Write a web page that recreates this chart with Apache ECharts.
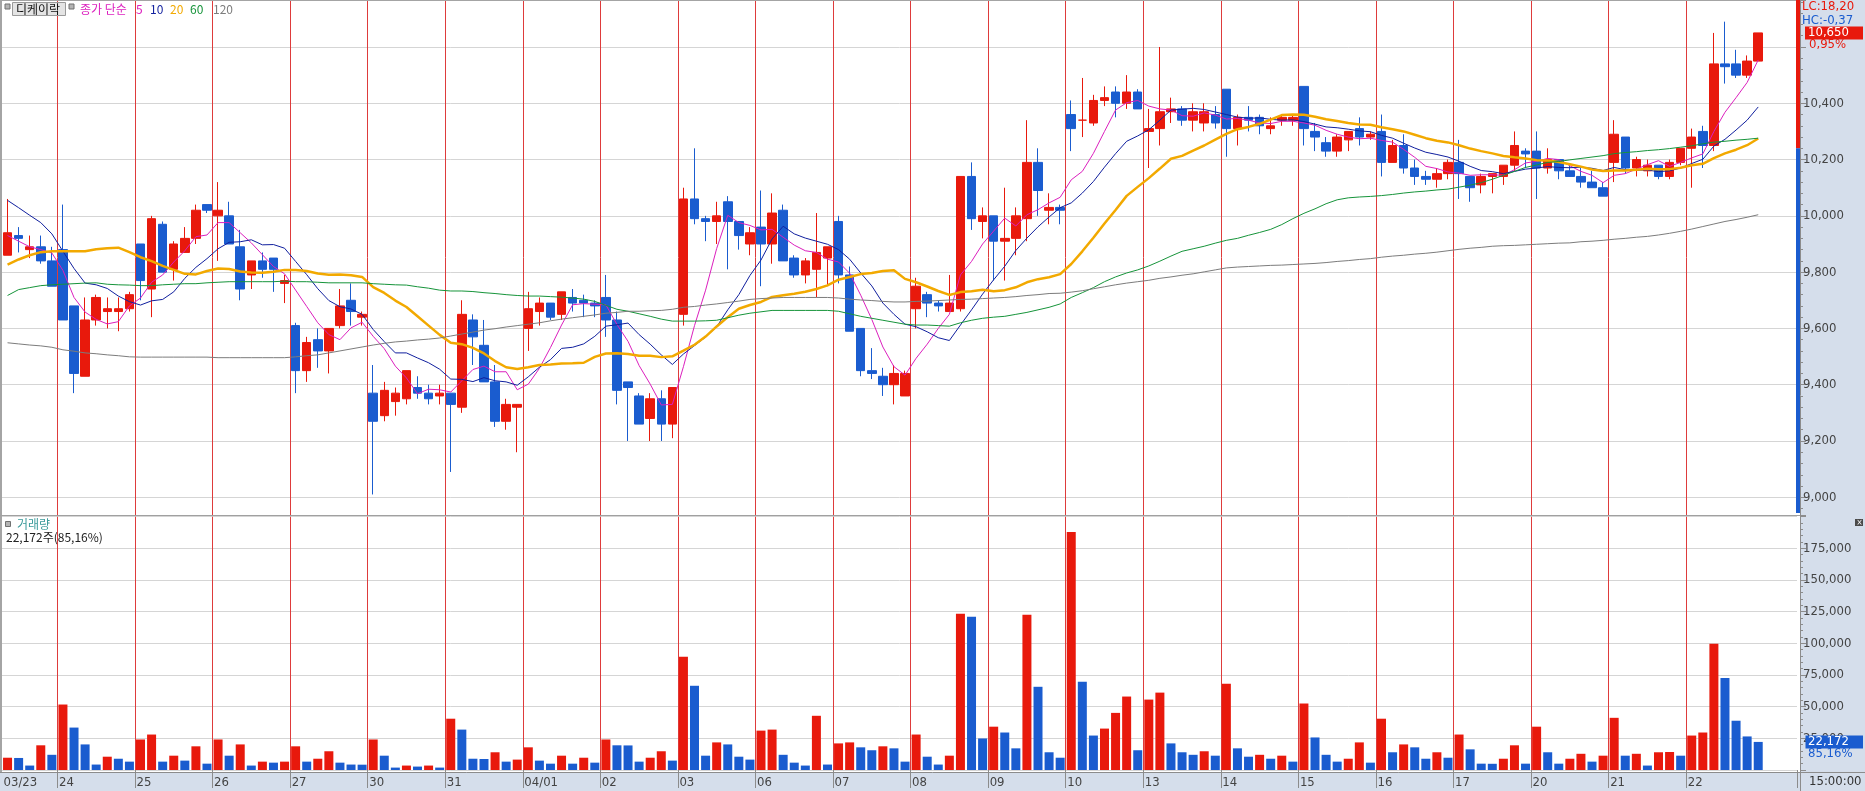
<!DOCTYPE html>
<html><head><meta charset="utf-8">
<script src="https://cdn.jsdelivr.net/npm/echarts@6/dist/echarts.min.js"></script>
<style>html,body{margin:0;padding:0;background:#fff;}#c{width:1865px;height:791px;}</style>
</head><body><div id="c"></div>
<script>
// ---------------- DATA ----------------
const dayLabels = ['03/23','24','25','26','27','30','31','04/01','02','03','06','07','08','09','10','13','14','15','16','17','20','21','22'];
const firstDayHours = ['11:00','12:00','13:00','14:00','15:00'];
const dayHours = ['09:00','10:00','11:00','12:00','13:00','14:00','15:00'];

const open = [
 9860,9930,9880,9890,9840,
 9880,9680,9430,9630,9660,9660,9670,
 9900,9740,9970,9810,9870,9920,10040,
 10000,10000,9890,9790,9840,9850,9760,
 9610,9450,9560,9520,9610,9700,9640,
 9370,9290,9340,9350,9390,9370,9360,
 9370,9320,9630,9540,9410,9270,9320,
 9600,9660,9690,9650,9710,9700,9690,
 9710,9630,9410,9360,9280,9350,9260,
 9650,10060,9990,9980,10050,9980,9900,
 9960,9900,10020,9850,9790,9810,9850,
 9980,9790,9600,9450,9430,9400,9360,
 9670,9720,9690,9660,9670,10140,9980,
 10000,9910,9920,9990,10190,10020,10030,
 10360,10340,10330,10410,10440,10400,10440,
 10300,10310,10370,10380,10340,10330,10360,
 10450,10310,10350,10350,10310,10340,10340,
 10460,10300,10260,10230,10270,10310,10280,
 10300,10190,10250,10170,10140,10130,10150,
 10190,10140,10110,10140,10140,10180,10230,
 10230,10170,10200,10160,10140,10120,10100,
 10190,10280,10170,10160,10180,10140,10190,
 10240,10300,10250,10540,10540,10500,10550];
const close = [
 9940,9920,9890,9840,9750,
 9630,9440,9630,9710,9670,9670,9720,
 9770,9990,9800,9900,9920,10020,10020,
 10020,9900,9740,9840,9810,9810,9770,
 9450,9550,9520,9600,9680,9660,9650,
 9270,9380,9370,9450,9370,9350,9370,
 9330,9650,9570,9410,9270,9330,9330,
 9670,9690,9640,9730,9690,9690,9680,
 9630,9380,9390,9260,9350,9260,9390,
 10060,9990,9980,10000,9980,9930,9940,
 9900,10010,9840,9790,9840,9870,9890,
 9790,9590,9450,9440,9400,9440,9440,
 9750,9690,9680,9690,10140,9990,10000,
 9910,9920,10000,10190,10090,10030,10020,
 10310,10340,10410,10420,10400,10440,10380,
 10310,10370,10380,10340,10370,10370,10330,
 10310,10350,10340,10320,10320,10350,10350,
 10310,10280,10230,10280,10300,10280,10290,
 10190,10250,10170,10140,10130,10150,10190,
 10150,10100,10140,10150,10180,10250,10220,
 10170,10200,10160,10140,10120,10100,10070,
 10290,10170,10200,10180,10140,10190,10240,
 10280,10250,10540,10530,10500,10550,10650];
const low = [
 9860,9870,9850,9830,9750,
 9630,9370,9430,9610,9600,9590,9660,
 9700,9640,9800,9770,9870,9900,10010,
 9840,9900,9700,9740,9780,9730,9690,
 9370,9410,9460,9440,9600,9610,9610,
 9010,9270,9290,9330,9350,9330,9330,
 9090,9300,9470,9410,9250,9240,9160,
 9520,9610,9630,9630,9660,9640,9640,
 9570,9330,9200,9260,9200,9200,9210,
 9610,9970,9910,9900,9810,9880,9860,
 9750,9830,9840,9780,9760,9710,9750,
 9760,9590,9430,9420,9360,9330,9360,
 9600,9640,9660,9660,9660,9950,9920,
 9770,9770,9860,9910,10000,9970,9970,
 10230,10280,10320,10390,10350,10380,10380,
 10170,10250,10330,10320,10300,10300,10310,
 10210,10250,10300,10290,10290,10320,10320,
 10250,10230,10210,10210,10230,10250,10270,
 10140,10190,10150,10110,10110,10100,10130,
 10060,10050,10080,10080,10110,10160,10170,
 10060,10150,10130,10140,10100,10100,10070,
 10120,10150,10140,10140,10130,10130,10180,
 10100,10170,10230,10470,10490,10490,10550];
const high = [
 10060,9960,9930,9930,9890,
 10040,9680,9710,9720,9710,9710,9730,
 9900,10000,9980,9910,9960,10040,10040,
 10120,10050,9950,9840,9870,9850,9790,
 9620,9570,9600,9600,9740,9760,9660,
 9470,9410,9390,9450,9430,9400,9400,
 9370,9700,9650,9630,9470,9350,9330,
 9730,9710,9690,9730,9740,9720,9700,
 9790,9660,9410,9370,9370,9380,9390,
 10100,10240,10000,10050,10070,9980,9960,
 10090,10080,10040,9860,9850,10010,9890,
 10000,9820,9600,9530,9460,9470,9450,
 9780,9730,9700,9790,10140,10190,10030,
 10000,10100,10030,10340,10240,10080,10040,
 10410,10490,10430,10460,10460,10500,10450,
 10380,10600,10420,10390,10400,10400,10390,
 10450,10360,10390,10360,10350,10360,10360,
 10460,10330,10280,10290,10300,10350,10300,
 10360,10270,10290,10200,10160,10170,10200,
 10270,10140,10150,10150,10180,10300,10240,
 10300,10240,10200,10180,10170,10160,10120,
 10340,10280,10210,10200,10180,10200,10240,
 10310,10320,10650,10690,10590,10570,10650];
const volume = [
 9700,9500,3500,19500,12000,
 51700,33500,20200,4300,10500,8900,6600,
 24100,28000,6600,11300,7400,18700,5000,
 24100,11300,20200,3500,6600,5800,6600,
 18700,6600,8900,14800,5800,4300,4200,
 24100,11300,1900,3500,2700,3500,1900,
 40500,31900,8900,8700,14000,6600,8200,
 17900,7400,5000,11300,5000,9700,5800,
 24100,19500,19400,6600,9700,14800,7400,
 89500,66500,11300,21800,20200,10500,8200,
 31100,31900,12000,5800,3500,42800,4300,
 21000,21800,17900,15600,18700,17100,6600,
 28000,10500,4300,11300,123300,121000,24900,
 34200,29600,17100,122500,65700,14000,9700,
 187900,69600,27200,32700,45100,58000,15600,
 55600,61100,21000,14000,12000,14800,11300,
 68100,17100,10500,12000,8900,11300,6600,
 52500,25700,12000,6600,8900,21800,5800,
 40500,14000,20200,17900,8900,14000,9700,
 28000,16300,5000,4900,8900,19500,5000,
 34200,14000,5000,8900,12800,6600,11300,
 41200,11300,12800,3500,14000,14200,11300,
 27200,29600,99600,72700,38900,26500,22172];
const ma5 = [
 9930,9910,9890,9880,9868,
 9806,9710,9658,9632,9616,9624,9680,
 9708,9764,9790,9836,9876,9926,9932,
 9976,9976,9940,9904,9862,9820,9794,
 9736,9678,9620,9578,9560,9602,9622,
 9572,9528,9466,9424,9368,9384,9382,
 9374,9414,9454,9466,9446,9446,9382,
 9402,9458,9532,9612,9684,9688,9686,
 9684,9614,9554,9468,9402,9328,9330,
 9464,9610,9736,9884,10002,9976,9966,
 9950,9952,9924,9896,9876,9870,9846,
 9836,9796,9718,9632,9534,9464,9434,
 9494,9544,9600,9650,9790,9838,9900,
 9946,9992,9964,10004,10022,10046,10066,
 10128,10158,10222,10300,10376,10402,10410,
 10390,10380,10376,10356,10354,10366,10358,
 10344,10346,10340,10330,10328,10336,10336,
 10330,10322,10304,10290,10280,10274,10276,
 10268,10262,10236,10208,10176,10168,10156,
 10152,10144,10146,10146,10144,10164,10188,
 10194,10204,10200,10178,10158,10144,10118,
 10144,10150,10166,10182,10196,10176,10190,
 10206,10220,10300,10368,10420,10474,10554];
const ma10 = [
 10055,10029,10002,9976,9936,
 9874,9813,9761,9755,9742,9715,9695,
 9683,9698,9703,9730,9778,9817,9848,
 9883,9906,9908,9915,9897,9898,9885,
 9838,9791,9741,9699,9677,9669,9650,
 9596,9553,9513,9513,9495,9478,9455,
 9420,9419,9411,9425,9414,9410,9398,
 9428,9462,9489,9529,9533,9545,9572,
 9608,9613,9619,9578,9544,9506,9472,
 9509,9539,9569,9606,9666,9720,9788,
 9843,9918,9963,9936,9921,9910,9899,
 9880,9846,9797,9751,9690,9650,9615,
 9606,9588,9567,9557,9612,9666,9722,
 9773,9821,9877,9921,9961,9996,10029,
 10046,10081,10122,10173,10221,10265,10284,
 10306,10340,10376,10379,10382,10378,10369,
 10360,10351,10347,10348,10343,10340,10341,
 10335,10326,10316,10313,10308,10302,10299,
 10286,10276,10258,10241,10226,10218,10209,
 10194,10176,10161,10157,10150,10158,10166,
 10170,10175,10172,10171,10173,10169,10161,
 10172,10164,10162,10163,10157,10160,10170,
 10186,10201,10248,10272,10305,10340,10387];
const ma20 = [
 9827,9845,9860,9871,9874,
 9874,9874,9874,9881,9885,9887,9871,
 9853,9839,9822,9808,9794,9792,9804,
 9813,9811,9802,9799,9798,9801,9808,
 9808,9804,9795,9791,9792,9789,9783,
 9747,9726,9699,9676,9643,9610,9577,
 9549,9544,9531,9511,9484,9462,9456,
 9462,9470,9472,9475,9476,9478,9499,
 9511,9512,9509,9503,9503,9498,9501,
 9521,9542,9571,9607,9640,9670,9683,
 9694,9712,9718,9723,9730,9740,9753,
 9773,9783,9793,9797,9804,9807,9776,
 9764,9749,9733,9719,9729,9732,9737,
 9732,9736,9746,9764,9775,9782,9793,
 9829,9874,9922,9973,10021,10071,10103,
 10134,10168,10203,10213,10232,10250,10271,
 10291,10308,10316,10327,10342,10358,10360,
 10359,10352,10343,10337,10330,10325,10324,
 10315,10308,10300,10288,10276,10267,10261,
 10251,10239,10230,10222,10213,10208,10204,
 10198,10197,10191,10183,10175,10165,10159,
 10161,10161,10164,10167,10166,10166,10171,
 10180,10185,10205,10222,10235,10251,10275];
const ma60 = [
 9717,9738,9745,9752,9755,
 9757,9759,9761,9762,9757,9755,9754,
 9752,9752,9755,9757,9759,9759,9762,
 9764,9766,9766,9766,9766,9766,9768,
 9766,9766,9764,9762,9762,9762,9762,
 9759,9757,9755,9754,9748,9743,9736,
 9733,9733,9731,9727,9724,9720,9717,
 9715,9715,9713,9711,9708,9704,9696,
 9682,9668,9661,9652,9643,9633,9626,
 9626,9626,9627,9629,9638,9647,9654,
 9659,9664,9664,9664,9664,9664,9664,
 9661,9652,9643,9636,9629,9622,9615,
 9612,9612,9610,9608,9620,9629,9636,
 9640,9643,9650,9657,9666,9675,9687,
 9710,9727,9745,9766,9783,9797,9808,
 9822,9839,9857,9874,9883,9892,9903,
 9913,9920,9931,9941,9952,9969,9990,
 10009,10025,10043,10057,10064,10067,10069,
 10072,10076,10081,10085,10088,10092,10095,
 10102,10109,10118,10130,10144,10158,10172,
 10181,10190,10193,10199,10204,10209,10214,
 10221,10225,10228,10232,10235,10239,10244,
 10249,10256,10262,10265,10269,10272,10276];
const ma120 = [
 9549,9545,9541,9538,9533,
 9524,9519,9513,9510,9506,9503,9499,
 9498,9498,9498,9498,9498,9498,9498,
 9496,9496,9496,9496,9496,9496,9496,
 9499,9503,9506,9513,9520,9527,9534,
 9541,9547,9552,9555,9559,9562,9566,
 9573,9580,9587,9594,9599,9605,9610,
 9615,9620,9627,9633,9638,9643,9648,
 9654,9657,9661,9661,9663,9664,9668,
 9675,9678,9683,9687,9692,9697,9703,
 9706,9708,9710,9710,9710,9710,9710,
 9708,9704,9701,9699,9696,9694,9694,
 9696,9697,9699,9701,9703,9704,9706,
 9708,9710,9713,9717,9720,9724,9725,
 9729,9734,9741,9748,9755,9761,9766,
 9771,9778,9783,9789,9794,9801,9808,
 9815,9818,9820,9822,9824,9825,9827,
 9829,9831,9834,9838,9841,9845,9848,
 9853,9857,9860,9864,9867,9871,9876,
 9881,9885,9888,9892,9894,9895,9897,
 9899,9901,9903,9904,9908,9910,9913,
 9917,9920,9924,9927,9932,9938,9945,
 9953,9962,9971,9980,9987,9995,10004];
const priceTicks = [9000,9200,9400,9600,9800,10000,10200,10400];
const volumeTicks = [25000,50000,75000,100000,125000,150000,175000];
const priceAxisMin = 8937, priceAxisMax = 10767;
const volumeAxisMax = 200000;
const infoTexts = {name:'디케이락', maTitle:'종가 단순', maPeriods:['5','10','20','60','120'],
  lc:'LC:18,20', hc:'HC:-0,37', pct:'0,95%', volTitle:'거래량', volInfo:'22,172주(85,16%)', volPct:'85,16%', lastTime:'15:00:00'};

// ---------------- BUILD ----------------
const nPad = 3;
const categories = [];
const dayStartLabel = {};
dayLabels.forEach((d, k) => {
  dayStartLabel[categories.length] = d;
  (k === 0 ? firstDayHours : dayHours).forEach(h => categories.push(d + ' ' + h));
});
for (let p = 0; p < nPad; p++) categories.push('pad' + p);
const isDayStart = idx => dayStartLabel[idx] !== undefined;
const isBoundary = idx => idx > 0 && isDayStart(idx);

const UP = '#e8190c', DOWN = '#1a5ccf';
const MA_COLORS = ['#dc1fbe', '#101f9e', '#f2a900', '#16943a', '#7c7c7c'];
const BAND = '#d5deeb';
const FN = '"Liberation Sans Narrow","DejaVu Sans Condensed","Liberation Sans","DejaVu Sans",sans-serif';
const FK = '"Noto Sans CJK KR","Noto Sans",sans-serif';
const fmt = v => String(v).replace(/\B(?=(\d{3})+(?!\d))/g, ',');

const candleData = open.map((o, i) => [o, close[i], low[i], high[i]]);
const volData = volume.map((v, i) => ({value: v, itemStyle: {color: (i === 0 || v > volume[i - 1]) ? UP : DOWN}}));
const maList = [ma5, ma10, ma20, ma60, ma120];

const chart = echarts.init(document.getElementById('c'), null, {renderer: 'canvas', width: 1865, height: 791});
const option = {
  animation: false,
  backgroundColor: '#ffffff',
  grid: [
    {left: 2, top: 0, width: 1795, height: 515, containLabel: false, outerBoundsMode: 'none'},
    {left: 2, top: 516.7, width: 1795, height: 253.3, containLabel: false, outerBoundsMode: 'none'}
  ],
  xAxis: [
    {type: 'category', gridIndex: 0, data: categories, boundaryGap: true,
     axisLine: {show: false}, axisTick: {show: false}, axisLabel: {show: false},
     splitLine: {show: true, interval: isBoundary, showMaxLine: false, lineStyle: {color: '#de3b3b', width: 1}}},
    {type: 'category', gridIndex: 1, data: categories, boundaryGap: true, offset: 3,
     axisLine: {show: false},
     axisTick: {show: true, interval: isBoundary, length: 18, lineStyle: {color: '#8c8c8c'}},
     axisLabel: {show: true, interval: isDayStart, formatter: (v, i) => dayStartLabel[i] || '',
       align: 'left', padding: [0, 0, 0, -4], margin: 3, color: '#444', fontSize: 13, fontFamily: FN},
     splitLine: {show: true, interval: isBoundary, showMaxLine: false, lineStyle: {color: '#de3b3b', width: 1}}}
  ],
  yAxis: [
    {type: 'value', gridIndex: 0, position: 'right', offset: 3, min: priceAxisMin, max: priceAxisMax,
     splitNumber: 9, minInterval: 200, maxInterval: 200,
     axisLine: {show: false},
     axisTick: {show: true, length: 6, lineStyle: {color: '#8c8c8c'}},
     minorTick: {show: true, splitNumber: 5, length: 3, lineStyle: {color: '#8c8c8c'}},
     axisLabel: {color: '#444', fontSize: 13, fontFamily: FN, margin: 3, showMinLabel: false, showMaxLabel: false,
       formatter: v => priceTicks.indexOf(v) >= 0 ? fmt(v) : ''},
     splitLine: {show: true, lineStyle: {color: '#d5d5d5', width: 1}}},
    {type: 'value', gridIndex: 1, position: 'right', offset: 3, min: 0, max: volumeAxisMax, interval: 25000,
     axisLine: {show: false},
     axisTick: {show: true, length: 6, lineStyle: {color: '#8c8c8c'}},
     minorTick: {show: true, splitNumber: 5, length: 3, lineStyle: {color: '#8c8c8c'}},
     axisLabel: {color: '#444', fontSize: 13, fontFamily: FN, margin: 3, showMinLabel: false, showMaxLabel: false,
       formatter: v => volumeTicks.indexOf(v) >= 0 ? fmt(v) : ''},
     splitLine: {show: true, lineStyle: {color: '#d5d5d5', width: 1}}}
  ],
  series: [
    {type: 'candlestick', xAxisIndex: 0, yAxisIndex: 0, data: candleData, barWidth: 9, z: 2,
     itemStyle: {color: UP, color0: DOWN, borderColor: UP, borderColor0: DOWN, borderWidth: 1}},
    ...maList.map((arr, k) => ({type: 'line', xAxisIndex: 0, yAxisIndex: 0, data: arr, symbol: 'none', showSymbol: false,
      z: 3, lineStyle: {color: MA_COLORS[k], width: k === 2 ? 2.5 : 1}})),
    {type: 'bar', xAxisIndex: 1, yAxisIndex: 1, data: volData, barWidth: 9, z: 2}
  ]
};
chart.setOption(option);

function buildGraphic() {
  const yP = v => chart.convertToPixel({yAxisIndex: 0}, v);
  const yV = v => chart.convertToPixel({yAxisIndex: 1}, v);
  const last = close.length - 1;
  const starts = Object.keys(dayStartLabel).map(Number);
  const prevDayClose = close[starts[starts.length - 1] - 1];
  const pY = yP(close[last]);
  const vY = yV(volume[last]);
  const sY = yP(prevDayClose);
  const topY = yP(priceAxisMax), botY = yP(priceAxisMin);
  const txt = (x, y, text, fill, size, fam, extra) => Object.assign({type: 'text', x, y, z: 100,
    style: {text, fill, fontSize: size, fontFamily: fam, verticalAlign: 'middle', align: 'left'}}, extra || {});
  const els = [
    {type: 'rect', shape: {x: 1800, y: 0, width: 65, height: 791}, style: {fill: BAND}, z: -1, silent: true},
    {type: 'rect', shape: {x: 0, y: 772, width: 1865, height: 19}, style: {fill: BAND}, z: -1, silent: true},
    {type: 'rect', shape: {x: 0, y: 0, width: 2, height: 772}, style: {fill: '#a4a4a4'}, z: 50},
    {type: 'line', shape: {x1: 0, y1: 0.5, x2: 1800, y2: 0.5}, style: {stroke: '#a4a4a4', lineWidth: 1}, z: 50},
    {type: 'line', shape: {x1: 1800.5, y1: 0, x2: 1800.5, y2: 791}, style: {stroke: '#8c8c8c', lineWidth: 1}, z: 50},
    {type: 'line', shape: {x1: 0, y1: 515.5, x2: 1800, y2: 515.5}, style: {stroke: '#a0a0a0', lineWidth: 1}, z: 50},
    {type: 'line', shape: {x1: 0, y1: 772.5, x2: 1865, y2: 772.5}, style: {stroke: '#8c8c8c', lineWidth: 1}, z: 50},
    // price range marker bar
    {type: 'rect', shape: {x: 1796, y: topY, width: 4, height: sY - topY}, style: {fill: UP}, z: 60},
    {type: 'rect', shape: {x: 1796, y: sY, width: 4, height: botY - 2 - sY}, style: {fill: DOWN}, z: 60},
    // legend top-left
    {type: 'rect', shape: {x: 5, y: 4, width: 5, height: 5}, style: {fill: '#b4b4b4', stroke: '#707070', lineWidth: 1}, z: 100},
    {type: 'rect', shape: {x: 12.5, y: 2.5, width: 53, height: 13}, style: {fill: '#e4e4e4', stroke: '#9a9a9a', lineWidth: 1}, z: 100},
    txt(16, 9.5, infoTexts.name, '#111', 12, FK),
    {type: 'rect', shape: {x: 69, y: 4, width: 5, height: 5}, style: {fill: '#b4b4b4', stroke: '#707070', lineWidth: 1}, z: 100},
    txt(80, 9.5, infoTexts.maTitle, MA_COLORS[0], 12, FK),
    txt(136, 9.5, infoTexts.maPeriods[0], MA_COLORS[0], 12, FK),
    txt(150, 9.5, infoTexts.maPeriods[1], MA_COLORS[1], 12, FK),
    txt(170, 9.5, infoTexts.maPeriods[2], MA_COLORS[2], 12, FK),
    txt(190, 9.5, infoTexts.maPeriods[3], MA_COLORS[3], 12, FK),
    txt(213, 9.5, infoTexts.maPeriods[4], '#7c7c7c', 12, FK),
    // volume legend
    {type: 'rect', shape: {x: 5.5, y: 521.5, width: 5, height: 5}, style: {fill: '#b4b4b4', stroke: '#707070', lineWidth: 1}, z: 100},
    txt(17, 524.5, infoTexts.volTitle, '#3a9a9a', 12, FK),
    txt(6, 537, infoTexts.volInfo, '#222', 12, FK),
    // right side info
    txt(1802, 7, infoTexts.lc, UP, 13, FN),
    txt(1802, 21, infoTexts.hc, DOWN, 13, FN),
    {type: 'rect', shape: {x: 1805, y: pY - 6.5, width: 58, height: 13}, style: {fill: UP}, z: 100},
    txt(1808, pY, fmt(close[last]), '#fff', 13, FN),
    txt(1809, pY + 12, infoTexts.pct, UP, 13, FN),
    {type: 'rect', shape: {x: 1805.5, y: vY - 6.5, width: 57.5, height: 13}, style: {fill: DOWN}, z: 100},
    txt(1808, vY, fmt(volume[last]), '#fff', 13, FN),
    txt(1808, vY + 12, infoTexts.volPct, DOWN, 13, FN),
    txt(1809, 781.5, infoTexts.lastTime, '#333', 13, FN),
    // small close icon
    {type: 'rect', shape: {x: 1855, y: 519, width: 8, height: 7}, style: {fill: '#4a4a4a'}, z: 100},
    txt(1856.5, 522.5, '×', '#fff', 8, FN)
  ];
  return els;
}
chart.setOption({graphic: {elements: buildGraphic()}});
</script>
</body></html>
